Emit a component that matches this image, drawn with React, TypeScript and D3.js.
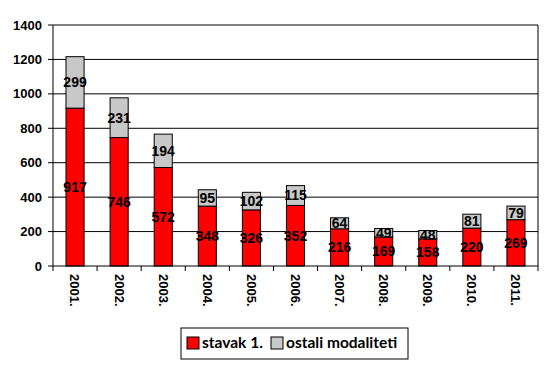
import React from "react";
import * as d3 from "d3";

const categories = ["2001.", "2002.", "2003.", "2004.", "2005.", "2006.", "2007.", "2008.", "2009.", "2010.", "2011."];
const stavak = [917, 746, 572, 348, 326, 352, 216, 169, 158, 220, 269];
const ostali = [299, 231, 194, 95, 102, 115, 64, 49, 48, 81, 79];
const yTicks = [0, 200, 400, 600, 800, 1000, 1200, 1400];
const seriesNames = ["stavak 1.", "ostali modaliteti"];
const colors = ["#ff0000", "#c8c8c8"];

export default function App() {
  const W = 550, H = 371;
  const left = 53, right = 538, top = 25, bottom = 266;
  const x = d3.scaleBand<string>().domain(categories).range([left, right]).paddingInner(0.59).paddingOuter(0.295);
  const y = d3.scaleLinear().domain([0, 1400]).range([bottom, top]);
  const step = (right - left) / categories.length;
  const labelFont = "'Liberation Sans', Arial, sans-serif";
  return (
    <svg width={W} height={H} style={{ position: "absolute", left: 0, top: 0, background: "#fff" }}>
      {yTicks.map((t) => (
        <g key={t}>
          {t > 0 && <line x1={left} x2={right} y1={y(t)} y2={y(t)} stroke="#000" strokeWidth={1} />}
          <line x1={left - 5} x2={left} y1={y(t)} y2={y(t)} stroke="#000" />
          <text x={42} y={y(t)} dy="0.35em" textAnchor="end" fontFamily="'Liberation Sans', Arial, sans-serif" fontWeight="bold" fontSize={13} fill="#000">{t}</text>
        </g>
      ))}
      <line x1={right} x2={right} y1={top} y2={bottom} stroke="#000" />
      {categories.map((c, i) => {
        const bx = x(c)!;
        const bw = x.bandwidth();
        const y0 = y(0), y1 = y(stavak[i]), y2 = y(stavak[i] + ostali[i]);
        return (
          <g key={c}>
            <rect x={bx} y={y1} width={bw} height={y0 - y1} fill={colors[0]} stroke="#000" strokeWidth={1} />
            <rect x={bx} y={y2} width={bw} height={y1 - y2} fill={colors[1]} stroke="#000" strokeWidth={1} />
            <text x={bx + bw / 2} y={(y0 + y1) / 2} dy="0.35em" textAnchor="middle" fontFamily={labelFont} fontWeight="bold" fontSize={14} fill="#000">{stavak[i]}</text>
            <text x={bx + bw / 2} y={(y1 + y2) / 2} dy="0.35em" textAnchor="middle" fontFamily={labelFont} fontWeight="bold" fontSize={14} fill="#000">{ostali[i]}</text>
          </g>
        );
      })}
      <line x1={left} x2={left} y1={top} y2={bottom} stroke="#000" />
      <line x1={left} x2={right} y1={bottom} y2={bottom} stroke="#000" />
      {d3.range(categories.length + 1).map((i) => (
        <line key={i} x1={left + i * step} x2={left + i * step} y1={bottom} y2={bottom + 5} stroke="#000" />
      ))}
      {categories.map((c) => (
        <text key={c} transform={`translate(${x(c)! + x.bandwidth() / 2},${274}) rotate(90)`} dy="0.35em" textAnchor="start" fontFamily="'Liberation Sans', Arial, sans-serif" fontWeight="bold" fontSize={13} fill="#000">{c}</text>
      ))}
      <rect x={181} y={328} width={227} height={31} fill="#fff" stroke="#000" strokeWidth={1} />
      <rect x={187} y={337} width={12} height={12} fill={colors[0]} stroke="#000" />
      <text x={202} y={343} dy="0.35em" fontFamily="Lato, 'Open Sans', sans-serif" fontWeight="bold" fontSize={15.5} fill="#000">{seriesNames[0]}</text>
      <rect x={271} y={337} width={12} height={12} fill={colors[1]} stroke="#000" />
      <text x={286} y={343} dy="0.35em" fontFamily="Lato, 'Open Sans', sans-serif" fontWeight="bold" fontSize={15.5} fill="#000">{seriesNames[1]}</text>
    </svg>
  );
}
